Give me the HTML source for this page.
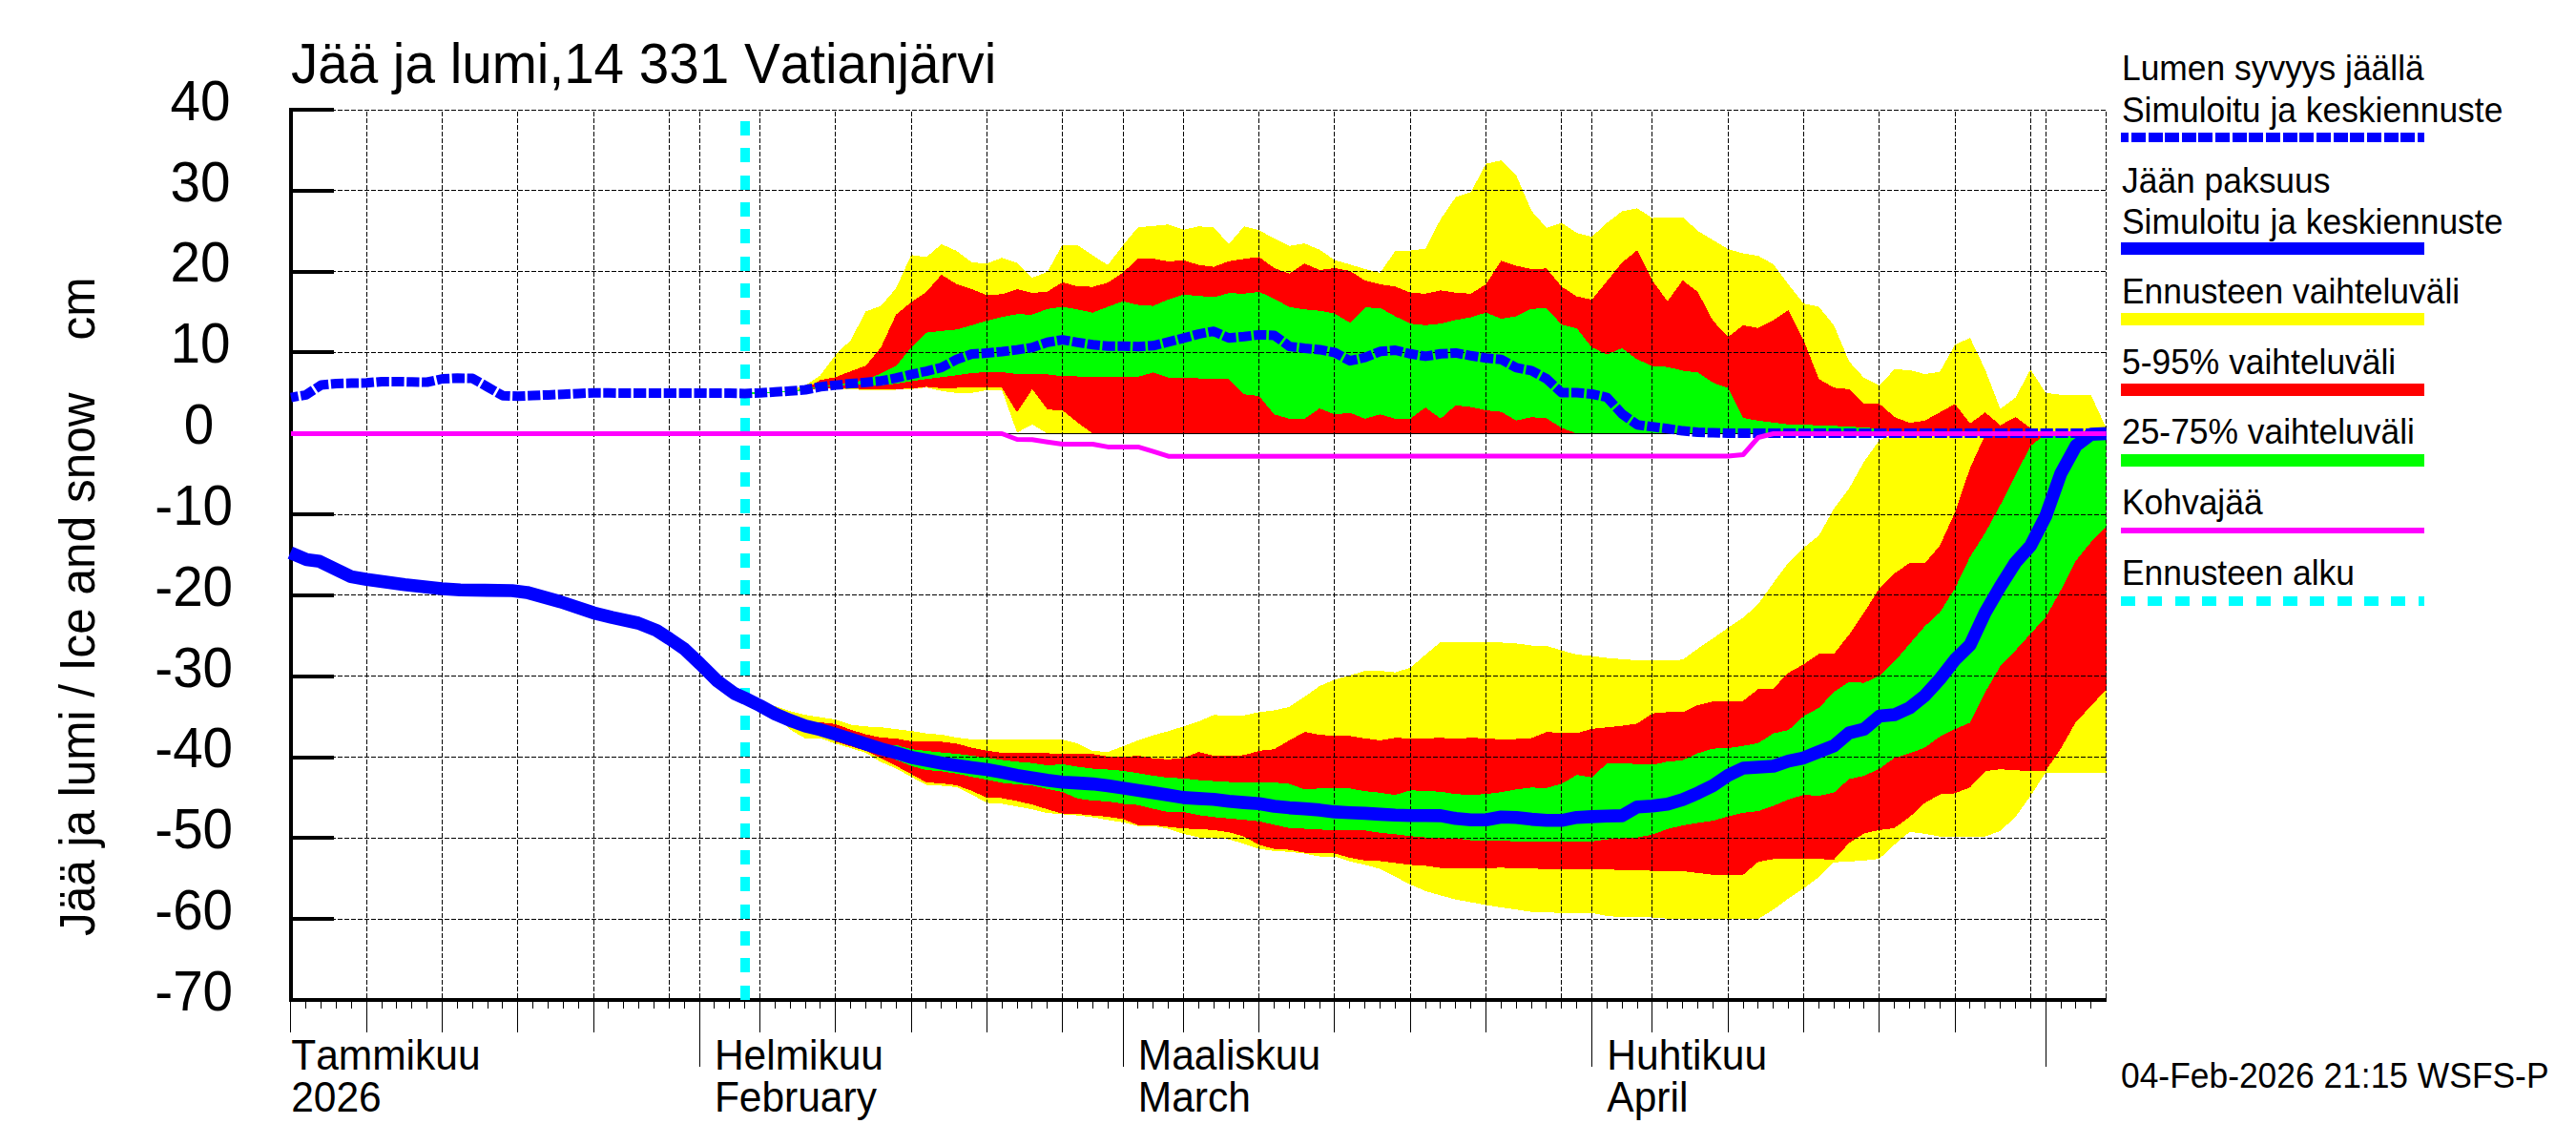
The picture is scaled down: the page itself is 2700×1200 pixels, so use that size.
<!DOCTYPE html>
<html><head><meta charset="utf-8"><title>Jää ja lumi</title>
<style>html,body{margin:0;padding:0;background:#fff}body{width:2700px;height:1200px;overflow:hidden;font-family:"Liberation Sans",sans-serif}</style></head>
<body>
<svg width="2700" height="1200" viewBox="0 0 2700 1200" style="display:block;font-kerning:none" font-family="Liberation Sans, sans-serif" fill="#000">
<rect width="2700" height="1200" fill="#fff"/>
<line x1="2207.5" y1="117.0" x2="2207.5" y2="1046.0" stroke="#000" stroke-width="1" stroke-dasharray="5 2" shape-rendering="crispEdges"/>
<g shape-rendering="crispEdges">
<path d="M780.7,411.8 L796.5,411.2 L812.4,410.2 L828.2,409.2 L844.1,404.0 L859.9,393.3 L875.8,372.0 L891.6,356.5 L907.5,326.4 L923.3,320.6 L939.2,302.1 L955.1,267.2 L970.9,269.5 L986.8,255.9 L1002.6,262.9 L1018.5,274.9 L1034.3,276.3 L1050.2,270.1 L1066.0,275.5 L1081.9,291.0 L1097.8,285.0 L1113.6,256.5 L1129.5,257.1 L1145.3,267.6 L1161.2,277.8 L1177.0,257.0 L1192.9,238.1 L1208.7,236.9 L1224.6,235.2 L1240.4,240.8 L1256.3,237.3 L1272.2,238.3 L1288.0,255.8 L1303.9,237.3 L1319.7,241.2 L1335.6,250.0 L1351.4,257.7 L1367.3,255.2 L1383.1,261.6 L1399.0,272.7 L1414.9,277.1 L1430.7,282.0 L1446.6,285.9 L1462.4,263.0 L1478.3,262.6 L1494.1,260.6 L1510.0,229.6 L1525.8,206.7 L1541.7,201.4 L1557.5,171.7 L1573.4,168.1 L1589.3,184.0 L1605.1,220.8 L1621.0,238.7 L1636.8,233.5 L1652.7,244.1 L1668.5,248.0 L1684.4,233.5 L1700.2,221.4 L1716.1,218.3 L1732.0,228.6 L1747.8,227.6 L1763.7,227.5 L1779.5,241.9 L1795.4,251.6 L1811.2,261.0 L1827.1,265.6 L1842.9,268.1 L1858.8,276.9 L1874.6,298.2 L1890.5,318.2 L1906.4,321.5 L1922.2,340.9 L1938.1,378.8 L1953.9,396.2 L1969.8,404.0 L1985.6,387.1 L2001.5,387.9 L2017.3,392.0 L2033.2,389.8 L2049.1,361.3 L2064.9,354.1 L2080.8,387.5 L2096.6,428.7 L2112.5,416.6 L2128.3,387.1 L2144.2,411.8 L2160.0,413.7 L2175.9,414.1 L2191.7,414.1 L2207.6,448.7 L2207.6,454.5 L2191.7,454.5 L2175.9,454.5 L2160.0,454.5 L2144.2,454.5 L2128.3,454.5 L2112.5,454.5 L2096.6,454.5 L2080.8,454.5 L2064.9,454.5 L2049.1,454.5 L2033.2,454.5 L2017.3,454.5 L2001.5,454.5 L1985.6,454.5 L1969.8,454.5 L1953.9,454.5 L1938.1,454.5 L1922.2,454.5 L1906.4,454.5 L1890.5,454.5 L1874.6,454.5 L1858.8,454.5 L1842.9,454.5 L1827.1,454.5 L1811.2,454.5 L1795.4,454.5 L1779.5,454.5 L1763.7,454.5 L1747.8,454.5 L1732.0,454.5 L1716.1,454.5 L1700.2,454.5 L1684.4,454.5 L1668.5,454.5 L1652.7,454.5 L1636.8,454.5 L1621.0,454.5 L1605.1,454.5 L1589.3,454.5 L1573.4,454.5 L1557.5,454.5 L1541.7,454.5 L1525.8,454.5 L1510.0,454.5 L1494.1,454.5 L1478.3,454.5 L1462.4,454.5 L1446.6,454.5 L1430.7,454.5 L1414.9,454.5 L1399.0,454.5 L1383.1,454.5 L1367.3,454.5 L1351.4,454.5 L1335.6,454.5 L1319.7,454.5 L1303.9,454.5 L1288.0,454.5 L1272.2,454.5 L1256.3,454.5 L1240.4,454.5 L1224.6,454.5 L1208.7,454.5 L1192.9,454.5 L1177.0,454.5 L1161.2,454.5 L1145.3,454.5 L1129.5,454.5 L1113.6,454.5 L1097.8,454.5 L1081.9,444.8 L1066.0,453.5 L1050.2,408.9 L1034.3,408.9 L1018.5,411.8 L1002.6,411.8 L986.8,409.8 L970.9,406.0 L955.1,407.9 L939.2,408.5 L923.3,408.9 L907.5,408.7 L891.6,408.3 L875.8,407.9 L859.9,406.9 L844.1,409.1 L828.2,410.4 L812.4,411.4 L796.5,412.4 L780.7,413.0Z" fill="#ffff00"/>
<path d="M780.7,411.8 L796.5,411.2 L812.4,410.2 L828.2,409.2 L844.1,407.9 L859.9,398.2 L875.8,395.3 L891.6,389.1 L907.5,383.2 L923.3,364.2 L939.2,329.7 L955.1,316.7 L970.9,306.0 L986.8,287.9 L1002.6,297.8 L1018.5,303.1 L1034.3,309.3 L1050.2,308.3 L1066.0,303.1 L1081.9,307.0 L1097.8,305.6 L1113.6,295.9 L1129.5,300.2 L1145.3,300.6 L1161.2,296.3 L1177.0,285.6 L1192.9,271.1 L1208.7,271.1 L1224.6,274.0 L1240.4,272.7 L1256.3,277.7 L1272.2,279.7 L1288.0,273.8 L1303.9,271.3 L1319.7,269.4 L1335.6,281.0 L1351.4,286.8 L1367.3,276.2 L1383.1,283.0 L1399.0,281.0 L1414.9,283.9 L1430.7,294.0 L1446.6,297.9 L1462.4,300.4 L1478.3,306.8 L1494.1,307.8 L1510.0,304.3 L1525.8,306.8 L1541.7,307.8 L1557.5,297.9 L1573.4,273.3 L1589.3,278.5 L1605.1,282.0 L1621.0,281.4 L1636.8,300.4 L1652.7,310.7 L1668.5,314.0 L1684.4,294.6 L1700.2,275.2 L1716.1,262.2 L1732.0,294.3 L1747.8,315.7 L1763.7,293.8 L1779.5,306.0 L1795.4,336.1 L1811.2,353.2 L1827.1,340.9 L1842.9,343.8 L1858.8,335.5 L1874.6,325.0 L1890.5,356.5 L1906.4,397.2 L1922.2,406.3 L1938.1,407.9 L1953.9,423.4 L1969.8,423.0 L1985.6,437.0 L2001.5,443.2 L2017.3,440.9 L2033.2,432.2 L2049.1,423.4 L2064.9,443.8 L2080.8,432.2 L2096.6,445.7 L2112.5,437.0 L2128.3,448.7 L2144.2,454.5 L2160.0,454.5 L2175.9,454.5 L2191.7,454.5 L2207.6,454.5 L2207.6,454.5 L2191.7,454.5 L2175.9,454.5 L2160.0,454.5 L2144.2,454.5 L2128.3,454.5 L2112.5,454.5 L2096.6,454.5 L2080.8,454.5 L2064.9,454.5 L2049.1,454.5 L2033.2,454.5 L2017.3,454.5 L2001.5,454.5 L1985.6,454.5 L1969.8,454.5 L1953.9,454.5 L1938.1,454.5 L1922.2,454.5 L1906.4,454.5 L1890.5,454.5 L1874.6,454.5 L1858.8,454.5 L1842.9,454.5 L1827.1,454.5 L1811.2,454.5 L1795.4,454.5 L1779.5,454.5 L1763.7,454.5 L1747.8,454.5 L1732.0,454.5 L1716.1,454.5 L1700.2,454.5 L1684.4,454.5 L1668.5,454.5 L1652.7,454.5 L1636.8,454.5 L1621.0,454.5 L1605.1,454.5 L1589.3,454.5 L1573.4,454.5 L1557.5,454.5 L1541.7,454.5 L1525.8,454.5 L1510.0,454.5 L1494.1,454.5 L1478.3,454.5 L1462.4,454.5 L1446.6,454.5 L1430.7,454.5 L1414.9,454.5 L1399.0,454.5 L1383.1,454.5 L1367.3,454.5 L1351.4,454.5 L1335.6,454.5 L1319.7,454.5 L1303.9,454.5 L1288.0,454.5 L1272.2,454.5 L1256.3,454.5 L1240.4,454.5 L1224.6,454.5 L1208.7,454.5 L1192.9,454.5 L1177.0,454.5 L1161.2,454.5 L1145.3,454.5 L1129.5,442.8 L1113.6,430.2 L1097.8,429.2 L1081.9,407.9 L1066.0,432.2 L1050.2,406.5 L1034.3,406.0 L1018.5,406.3 L1002.6,406.5 L986.8,406.9 L970.9,405.4 L955.1,407.3 L939.2,407.7 L923.3,407.9 L907.5,407.7 L891.6,407.3 L875.8,406.9 L859.9,406.5 L844.1,409.1 L828.2,410.4 L812.4,411.4 L796.5,412.4 L780.7,413.0Z" fill="#ff0000"/>
<path d="M780.7,411.8 L796.5,411.2 L812.4,410.2 L828.2,409.2 L844.1,407.9 L859.9,404.8 L875.8,403.0 L891.6,401.1 L907.5,398.2 L923.3,391.4 L939.2,383.6 L955.1,364.2 L970.9,348.7 L986.8,346.8 L1002.6,345.4 L1018.5,340.9 L1034.3,336.1 L1050.2,332.2 L1066.0,329.3 L1081.9,329.7 L1097.8,323.9 L1113.6,321.5 L1129.5,324.4 L1145.3,327.7 L1161.2,321.5 L1177.0,315.7 L1192.9,319.6 L1208.7,320.6 L1224.6,313.8 L1240.4,308.8 L1256.3,310.1 L1272.2,311.5 L1288.0,307.2 L1303.9,307.8 L1319.7,305.9 L1335.6,313.0 L1351.4,321.8 L1367.3,324.3 L1383.1,325.7 L1399.0,328.6 L1414.9,338.3 L1430.7,322.4 L1446.6,322.7 L1462.4,331.5 L1478.3,339.2 L1494.1,340.8 L1510.0,339.2 L1525.8,335.4 L1541.7,332.5 L1557.5,327.6 L1573.4,334.0 L1589.3,331.5 L1605.1,323.7 L1621.0,323.1 L1636.8,340.2 L1652.7,344.1 L1668.5,364.1 L1684.4,371.4 L1700.2,365.0 L1716.1,376.7 L1732.0,383.6 L1747.8,384.6 L1763.7,388.5 L1779.5,390.4 L1795.4,401.1 L1811.2,406.5 L1827.1,438.0 L1842.9,440.9 L1858.8,442.8 L1874.6,444.8 L1890.5,445.2 L1906.4,445.7 L1922.2,446.3 L1938.1,447.1 L1953.9,448.1 L1969.8,449.2 L1985.6,453.4 L2001.5,453.4 L2017.3,453.4 L2033.2,453.4 L2049.1,453.4 L2064.9,453.4 L2080.8,453.4 L2096.6,453.4 L2112.5,453.4 L2128.3,453.4 L2144.2,453.4 L2160.0,453.4 L2175.9,453.4 L2191.7,453.4 L2207.6,453.4 L2207.6,454.6 L2191.7,454.6 L2175.9,454.6 L2160.0,454.6 L2144.2,454.6 L2128.3,454.6 L2112.5,454.6 L2096.6,454.6 L2080.8,454.6 L2064.9,454.6 L2049.1,454.6 L2033.2,454.6 L2017.3,454.6 L2001.5,454.6 L1985.6,454.6 L1969.8,454.6 L1953.9,454.6 L1938.1,454.6 L1922.2,454.6 L1906.4,454.6 L1890.5,454.6 L1874.6,454.6 L1858.8,454.6 L1842.9,454.6 L1827.1,454.6 L1811.2,454.6 L1795.4,454.5 L1779.5,454.5 L1763.7,454.5 L1747.8,454.5 L1732.0,454.5 L1716.1,454.5 L1700.2,454.5 L1684.4,454.5 L1668.5,454.5 L1652.7,454.3 L1636.8,448.5 L1621.0,438.4 L1605.1,437.2 L1589.3,440.7 L1573.4,431.6 L1557.5,430.0 L1541.7,426.6 L1525.8,424.8 L1510.0,438.8 L1494.1,427.1 L1478.3,438.8 L1462.4,438.8 L1446.6,434.3 L1430.7,438.8 L1414.9,432.6 L1399.0,434.5 L1383.1,428.1 L1367.3,438.8 L1351.4,438.8 L1335.6,434.3 L1319.7,415.1 L1303.9,413.2 L1288.0,397.4 L1272.2,397.0 L1256.3,396.5 L1240.4,395.7 L1224.6,395.7 L1208.7,390.4 L1192.9,394.9 L1177.0,395.3 L1161.2,395.1 L1145.3,394.7 L1129.5,394.5 L1113.6,394.3 L1097.8,392.4 L1081.9,392.2 L1066.0,392.0 L1050.2,390.0 L1034.3,390.0 L1018.5,391.0 L1002.6,393.3 L986.8,395.3 L970.9,397.2 L955.1,399.5 L939.2,402.1 L923.3,404.0 L907.5,403.0 L891.6,403.0 L875.8,404.2 L859.9,406.0 L844.1,409.1 L828.2,410.4 L812.4,411.4 L796.5,412.4 L780.7,413.0Z" fill="#00ff00"/>
<path d="M780.7,731.7 L796.5,739.5 L812.4,740.1 L828.2,745.3 L844.1,749.2 L859.9,751.7 L875.8,754.1 L891.6,759.5 L907.5,761.4 L923.3,762.2 L939.2,764.1 L955.1,766.1 L970.9,768.6 L986.8,770.0 L1002.6,772.9 L1018.5,775.0 L1034.3,775.0 L1050.2,775.0 L1066.0,775.0 L1081.9,775.0 L1097.8,775.0 L1113.6,775.0 L1129.5,779.3 L1145.3,787.0 L1161.2,788.0 L1177.0,782.2 L1192.9,775.8 L1208.7,770.6 L1224.6,766.3 L1240.4,761.3 L1256.3,756.1 L1272.2,749.3 L1288.0,750.1 L1303.9,749.7 L1319.7,746.4 L1335.6,744.4 L1351.4,740.9 L1367.3,730.3 L1383.1,719.0 L1399.0,712.2 L1414.9,707.9 L1430.7,703.1 L1446.6,703.1 L1462.4,704.6 L1478.3,699.8 L1494.1,686.0 L1510.0,673.0 L1525.8,673.0 L1541.7,673.0 L1557.5,673.0 L1573.4,673.4 L1589.3,674.4 L1605.1,676.5 L1621.0,676.9 L1636.8,681.7 L1652.7,686.0 L1668.5,687.6 L1684.4,689.5 L1700.2,690.9 L1716.1,692.0 L1732.0,692.0 L1747.8,692.0 L1763.7,691.4 L1779.5,679.8 L1795.4,669.1 L1811.2,657.9 L1827.1,647.4 L1842.9,633.1 L1858.8,610.8 L1874.6,589.5 L1890.5,573.9 L1906.4,561.3 L1922.2,533.2 L1938.1,511.8 L1953.9,483.7 L1969.8,461.4 L1985.6,454.8 L2001.5,454.5 L2017.3,454.5 L2033.2,454.5 L2049.1,454.5 L2064.9,454.5 L2080.8,454.5 L2096.6,454.5 L2112.5,454.5 L2128.3,454.5 L2144.2,454.5 L2160.0,454.5 L2175.9,454.5 L2191.7,454.5 L2207.6,454.5 L2207.6,809.7 L2191.7,809.7 L2175.9,809.7 L2160.0,809.7 L2144.2,809.7 L2128.3,834.0 L2112.5,856.3 L2096.6,870.8 L2080.8,876.7 L2064.9,877.3 L2049.1,877.3 L2033.2,876.7 L2017.3,873.8 L2001.5,871.8 L1985.6,885.4 L1969.8,900.0 L1953.9,901.9 L1938.1,902.9 L1922.2,903.8 L1906.4,919.4 L1890.5,931.0 L1874.6,941.7 L1858.8,953.3 L1842.9,963.0 L1827.1,963.0 L1811.2,963.0 L1795.4,963.0 L1779.5,963.0 L1763.7,963.0 L1747.8,962.7 L1732.0,961.5 L1716.1,961.1 L1700.2,961.1 L1684.4,960.1 L1668.5,956.8 L1652.7,956.8 L1636.8,956.8 L1621.0,956.2 L1605.1,955.7 L1589.3,953.3 L1573.4,951.0 L1557.5,948.5 L1541.7,945.6 L1525.8,942.7 L1510.0,938.4 L1494.1,933.9 L1478.3,927.1 L1462.4,918.8 L1446.6,910.6 L1430.7,906.4 L1414.9,902.9 L1399.0,897.6 L1383.1,897.6 L1367.3,894.5 L1351.4,892.8 L1335.6,891.8 L1319.7,889.7 L1303.9,884.4 L1288.0,879.6 L1272.2,878.2 L1256.3,877.6 L1240.4,873.8 L1224.6,868.6 L1208.7,865.7 L1192.9,865.7 L1177.0,861.8 L1161.2,859.4 L1145.3,856.5 L1129.5,854.6 L1113.6,853.4 L1097.8,852.1 L1081.9,848.2 L1066.0,845.3 L1050.2,842.4 L1034.3,841.4 L1018.5,832.7 L1002.6,824.9 L986.8,823.5 L970.9,822.6 L955.1,814.2 L939.2,805.5 L923.3,798.7 L907.5,789.0 L891.6,784.1 L875.8,779.3 L859.9,773.9 L844.1,773.9 L828.2,764.7 L812.4,748.2 L796.5,739.5 L780.7,731.7Z" fill="#ffff00"/>
<path d="M780.7,731.7 L796.5,739.5 L812.4,748.2 L828.2,755.0 L844.1,760.8 L859.9,757.0 L875.8,758.9 L891.6,764.7 L907.5,769.6 L923.3,773.1 L939.2,773.9 L955.1,777.0 L970.9,777.0 L986.8,777.3 L1002.6,779.3 L1018.5,783.6 L1034.3,786.7 L1050.2,789.0 L1066.0,789.4 L1081.9,789.4 L1097.8,789.4 L1113.6,790.3 L1129.5,790.3 L1145.3,790.3 L1161.2,792.9 L1177.0,793.5 L1192.9,791.9 L1208.7,794.8 L1224.6,795.8 L1240.4,794.3 L1256.3,788.1 L1272.2,792.0 L1288.0,792.4 L1303.9,791.4 L1319.7,786.9 L1335.6,785.2 L1351.4,775.9 L1367.3,767.1 L1383.1,770.0 L1399.0,771.4 L1414.9,771.4 L1430.7,773.9 L1446.6,775.9 L1462.4,773.2 L1478.3,773.9 L1494.1,773.9 L1510.0,773.2 L1525.8,774.3 L1541.7,773.2 L1557.5,773.9 L1573.4,774.9 L1589.3,774.5 L1605.1,773.5 L1621.0,767.1 L1636.8,768.1 L1652.7,768.5 L1668.5,763.8 L1684.4,762.3 L1700.2,760.7 L1716.1,758.4 L1732.0,747.7 L1747.8,746.4 L1763.7,746.4 L1779.5,739.0 L1795.4,735.1 L1811.2,735.1 L1827.1,734.5 L1842.9,722.1 L1858.8,721.5 L1874.6,705.0 L1890.5,696.3 L1906.4,685.2 L1922.2,685.2 L1938.1,665.2 L1953.9,641.9 L1969.8,616.6 L1985.6,601.1 L2001.5,590.0 L2017.3,590.4 L2033.2,572.0 L2049.1,537.0 L2064.9,490.5 L2080.8,455.5 L2096.6,454.5 L2112.5,454.5 L2128.3,454.5 L2144.2,454.5 L2160.0,454.5 L2175.9,454.5 L2191.7,454.5 L2207.6,454.5 L2207.6,722.5 L2191.7,740.0 L2175.9,756.5 L2160.0,784.6 L2144.2,807.8 L2128.3,807.8 L2112.5,807.4 L2096.6,806.2 L2080.8,808.2 L2064.9,825.2 L2049.1,831.4 L2033.2,832.6 L2017.3,841.7 L2001.5,856.3 L1985.6,867.9 L1969.8,869.9 L1953.9,873.4 L1938.1,883.5 L1922.2,900.9 L1906.4,900.3 L1890.5,900.3 L1874.6,900.3 L1858.8,900.3 L1842.9,903.3 L1827.1,916.8 L1811.2,916.8 L1795.4,916.8 L1779.5,914.9 L1763.7,913.0 L1747.8,912.6 L1732.0,912.6 L1716.1,912.0 L1700.2,912.0 L1684.4,911.0 L1668.5,911.0 L1652.7,911.0 L1636.8,911.0 L1621.0,911.0 L1605.1,910.1 L1589.3,910.1 L1573.4,909.3 L1557.5,910.1 L1541.7,910.1 L1525.8,910.1 L1510.0,909.7 L1494.1,907.3 L1478.3,906.4 L1462.4,904.4 L1446.6,902.5 L1430.7,901.9 L1414.9,899.0 L1399.0,894.5 L1383.1,894.1 L1367.3,893.6 L1351.4,890.6 L1335.6,889.7 L1319.7,885.4 L1303.9,876.7 L1288.0,872.2 L1272.2,869.9 L1256.3,868.9 L1240.4,868.3 L1224.6,866.6 L1208.7,864.7 L1192.9,864.7 L1177.0,858.5 L1161.2,856.0 L1145.3,854.6 L1129.5,853.0 L1113.6,852.7 L1097.8,848.2 L1081.9,843.3 L1066.0,839.5 L1050.2,836.5 L1034.3,836.0 L1018.5,828.8 L1002.6,823.0 L986.8,821.0 L970.9,820.0 L955.1,811.3 L939.2,802.6 L923.3,794.8 L907.5,787.0 L891.6,782.2 L875.8,777.3 L859.9,764.7 L844.1,760.8 L828.2,755.0 L812.4,748.2 L796.5,739.5 L780.7,731.7Z" fill="#ff0000"/>
<path d="M780.7,731.7 L796.5,739.5 L812.4,748.2 L828.2,755.0 L844.1,760.8 L859.9,764.7 L875.8,769.6 L891.6,774.4 L907.5,779.7 L923.3,784.7 L939.2,780.8 L955.1,785.1 L970.9,787.0 L986.8,788.6 L1002.6,790.0 L1018.5,791.9 L1034.3,794.2 L1050.2,796.4 L1066.0,798.3 L1081.9,799.7 L1097.8,802.0 L1113.6,801.0 L1129.5,803.5 L1145.3,805.5 L1161.2,806.5 L1177.0,807.8 L1192.9,810.3 L1208.7,812.9 L1224.6,815.2 L1240.4,815.7 L1256.3,817.6 L1272.2,818.6 L1288.0,819.5 L1303.9,820.1 L1319.7,820.1 L1335.6,820.1 L1351.4,821.5 L1367.3,827.3 L1383.1,826.3 L1399.0,825.9 L1414.9,826.3 L1430.7,829.2 L1446.6,830.8 L1462.4,833.1 L1478.3,828.3 L1494.1,828.9 L1510.0,829.8 L1525.8,832.2 L1541.7,833.1 L1557.5,832.2 L1573.4,830.2 L1589.3,827.3 L1605.1,825.4 L1621.0,825.8 L1636.8,821.5 L1652.7,812.2 L1668.5,814.7 L1684.4,800.1 L1700.2,800.1 L1716.1,800.7 L1732.0,801.5 L1747.8,798.2 L1763.7,796.8 L1779.5,789.5 L1795.4,784.6 L1811.2,784.0 L1827.1,781.7 L1842.9,778.8 L1858.8,768.5 L1874.6,765.2 L1890.5,750.6 L1906.4,741.9 L1922.2,725.4 L1938.1,714.7 L1953.9,715.7 L1969.8,708.3 L1985.6,693.4 L2001.5,674.9 L2017.3,656.5 L2033.2,641.9 L2049.1,616.6 L2064.9,583.6 L2080.8,558.4 L2096.6,529.3 L2112.5,498.2 L2128.3,467.2 L2144.2,455.1 L2160.0,454.5 L2175.9,454.5 L2191.7,454.5 L2207.6,454.5 L2207.6,551.6 L2191.7,568.1 L2175.9,587.5 L2160.0,618.6 L2144.2,646.8 L2128.3,664.3 L2112.5,681.7 L2096.6,698.2 L2080.8,725.4 L2064.9,757.4 L2049.1,764.2 L2033.2,772.0 L2017.3,783.6 L2001.5,789.5 L1985.6,794.3 L1969.8,805.8 L1953.9,813.0 L1938.1,816.5 L1922.2,830.7 L1906.4,834.0 L1890.5,833.0 L1874.6,837.8 L1858.8,844.6 L1842.9,850.1 L1827.1,851.8 L1811.2,855.7 L1795.4,860.2 L1779.5,862.5 L1763.7,865.0 L1747.8,868.9 L1732.0,874.7 L1716.1,877.6 L1700.2,878.6 L1684.4,879.6 L1668.5,881.9 L1652.7,881.9 L1636.8,881.9 L1621.0,881.9 L1605.1,881.9 L1589.3,881.9 L1573.4,880.9 L1557.5,880.9 L1541.7,880.6 L1525.8,878.6 L1510.0,878.6 L1494.1,877.6 L1478.3,876.3 L1462.4,874.3 L1446.6,872.8 L1430.7,870.3 L1414.9,869.5 L1399.0,870.3 L1383.1,869.3 L1367.3,868.5 L1351.4,867.9 L1335.6,864.4 L1319.7,860.8 L1303.9,859.2 L1288.0,857.8 L1272.2,856.3 L1256.3,854.3 L1240.4,850.9 L1224.6,851.1 L1208.7,847.6 L1192.9,843.7 L1177.0,842.4 L1161.2,839.8 L1145.3,839.1 L1129.5,836.9 L1113.6,830.1 L1097.8,826.8 L1081.9,823.3 L1066.0,822.0 L1050.2,820.4 L1034.3,817.1 L1018.5,814.2 L1002.6,810.7 L986.8,808.4 L970.9,807.0 L955.1,802.6 L939.2,796.4 L923.3,784.7 L907.5,779.7 L891.6,774.4 L875.8,769.6 L859.9,764.7 L844.1,760.8 L828.2,755.0 L812.4,748.2 L796.5,739.5 L780.7,731.7Z" fill="#00ff00"/>
</g>
<g stroke="#000" stroke-width="1" stroke-dasharray="5 2" shape-rendering="crispEdges">
<line x1="350.0" y1="963.5" x2="2207.6" y2="963.5" stroke-dashoffset="3"/>
<line x1="350.0" y1="878.5" x2="2207.6" y2="878.5" stroke-dashoffset="3"/>
<line x1="350.0" y1="793.5" x2="2207.6" y2="793.5" stroke-dashoffset="3"/>
<line x1="350.0" y1="708.5" x2="2207.6" y2="708.5" stroke-dashoffset="3"/>
<line x1="350.0" y1="623.5" x2="2207.6" y2="623.5" stroke-dashoffset="3"/>
<line x1="350.0" y1="539.5" x2="2207.6" y2="539.5" stroke-dashoffset="3"/>
<line x1="350.0" y1="454.5" x2="2207.6" y2="454.5" stroke-dashoffset="3"/>
<line x1="350.0" y1="369.5" x2="2207.6" y2="369.5" stroke-dashoffset="3"/>
<line x1="350.0" y1="284.5" x2="2207.6" y2="284.5" stroke-dashoffset="3"/>
<line x1="350.0" y1="199.5" x2="2207.6" y2="199.5" stroke-dashoffset="3"/>
<line x1="350.0" y1="115.5" x2="2207.6" y2="115.5" stroke-dashoffset="3"/>
<line x1="384.5" y1="117.0" x2="384.5" y2="1046.0"/>
<line x1="463.5" y1="117.0" x2="463.5" y2="1046.0"/>
<line x1="542.5" y1="117.0" x2="542.5" y2="1046.0"/>
<line x1="622.5" y1="117.0" x2="622.5" y2="1046.0"/>
<line x1="796.5" y1="117.0" x2="796.5" y2="1046.0"/>
<line x1="875.5" y1="117.0" x2="875.5" y2="1046.0"/>
<line x1="955.5" y1="117.0" x2="955.5" y2="1046.0"/>
<line x1="1034.5" y1="117.0" x2="1034.5" y2="1046.0"/>
<line x1="1113.5" y1="117.0" x2="1113.5" y2="1046.0"/>
<line x1="1240.5" y1="117.0" x2="1240.5" y2="1046.0"/>
<line x1="1319.5" y1="117.0" x2="1319.5" y2="1046.0"/>
<line x1="1398.5" y1="117.0" x2="1398.5" y2="1046.0"/>
<line x1="1478.5" y1="117.0" x2="1478.5" y2="1046.0"/>
<line x1="1557.5" y1="117.0" x2="1557.5" y2="1046.0"/>
<line x1="1731.5" y1="117.0" x2="1731.5" y2="1046.0"/>
<line x1="1811.5" y1="117.0" x2="1811.5" y2="1046.0"/>
<line x1="1890.5" y1="117.0" x2="1890.5" y2="1046.0"/>
<line x1="1969.5" y1="117.0" x2="1969.5" y2="1046.0"/>
<line x1="2049.5" y1="117.0" x2="2049.5" y2="1046.0"/>
<line x1="2207.5" y1="117.0" x2="2207.5" y2="1046.0"/>
<line x1="733.5" y1="117.0" x2="733.5" y2="1046.0"/>
<line x1="1177.5" y1="117.0" x2="1177.5" y2="1046.0"/>
<line x1="1668.5" y1="117.0" x2="1668.5" y2="1046.0"/>
<line x1="2144.5" y1="117.0" x2="2144.5" y2="1046.0"/>
<line x1="701.5" y1="117.0" x2="701.5" y2="1046.0"/>
<line x1="1636.5" y1="117.0" x2="1636.5" y2="1046.0"/>
<line x1="2128.5" y1="117.0" x2="2128.5" y2="1046.0"/>
</g>
<g stroke="#000" shape-rendering="crispEdges">
<line x1="305.0" y1="963" x2="350.0" y2="963" stroke-width="4"/>
<line x1="305.0" y1="878" x2="350.0" y2="878" stroke-width="4"/>
<line x1="305.0" y1="794" x2="350.0" y2="794" stroke-width="4"/>
<line x1="305.0" y1="709" x2="350.0" y2="709" stroke-width="4"/>
<line x1="305.0" y1="624" x2="350.0" y2="624" stroke-width="4"/>
<line x1="305.0" y1="539" x2="350.0" y2="539" stroke-width="4"/>
<line x1="305.0" y1="454" x2="350.0" y2="454" stroke-width="4"/>
<line x1="305.0" y1="369" x2="350.0" y2="369" stroke-width="4"/>
<line x1="305.0" y1="285" x2="350.0" y2="285" stroke-width="4"/>
<line x1="305.0" y1="200" x2="350.0" y2="200" stroke-width="4"/>
<line x1="305.0" y1="115" x2="350.0" y2="115" stroke-width="4"/>
</g>
<g stroke="#000" shape-rendering="crispEdges">
<line x1="305.0" y1="113.0" x2="305.0" y2="1050.0" stroke-width="4"/>
<line x1="303.0" y1="1048.0" x2="2207.6" y2="1048.0" stroke-width="4"/>
<line x1="304.5" y1="1050.0" x2="304.5" y2="1081.6" stroke-width="1"/>
<line x1="320.5" y1="1050.0" x2="320.5" y2="1056.6" stroke-width="1"/>
<line x1="336.5" y1="1050.0" x2="336.5" y2="1056.6" stroke-width="1"/>
<line x1="352.5" y1="1050.0" x2="352.5" y2="1056.6" stroke-width="1"/>
<line x1="368.5" y1="1050.0" x2="368.5" y2="1056.6" stroke-width="1"/>
<line x1="384.5" y1="1050.0" x2="384.5" y2="1081.6" stroke-width="1"/>
<line x1="400.5" y1="1050.0" x2="400.5" y2="1056.6" stroke-width="1"/>
<line x1="415.5" y1="1050.0" x2="415.5" y2="1056.6" stroke-width="1"/>
<line x1="431.5" y1="1050.0" x2="431.5" y2="1056.6" stroke-width="1"/>
<line x1="447.5" y1="1050.0" x2="447.5" y2="1056.6" stroke-width="1"/>
<line x1="463.5" y1="1050.0" x2="463.5" y2="1081.6" stroke-width="1"/>
<line x1="479.5" y1="1050.0" x2="479.5" y2="1056.6" stroke-width="1"/>
<line x1="495.5" y1="1050.0" x2="495.5" y2="1056.6" stroke-width="1"/>
<line x1="511.5" y1="1050.0" x2="511.5" y2="1056.6" stroke-width="1"/>
<line x1="526.5" y1="1050.0" x2="526.5" y2="1056.6" stroke-width="1"/>
<line x1="542.5" y1="1050.0" x2="542.5" y2="1081.6" stroke-width="1"/>
<line x1="558.5" y1="1050.0" x2="558.5" y2="1056.6" stroke-width="1"/>
<line x1="574.5" y1="1050.0" x2="574.5" y2="1056.6" stroke-width="1"/>
<line x1="590.5" y1="1050.0" x2="590.5" y2="1056.6" stroke-width="1"/>
<line x1="606.5" y1="1050.0" x2="606.5" y2="1056.6" stroke-width="1"/>
<line x1="622.5" y1="1050.0" x2="622.5" y2="1081.6" stroke-width="1"/>
<line x1="637.5" y1="1050.0" x2="637.5" y2="1056.6" stroke-width="1"/>
<line x1="653.5" y1="1050.0" x2="653.5" y2="1056.6" stroke-width="1"/>
<line x1="669.5" y1="1050.0" x2="669.5" y2="1056.6" stroke-width="1"/>
<line x1="685.5" y1="1050.0" x2="685.5" y2="1056.6" stroke-width="1"/>
<line x1="701.5" y1="1050.0" x2="701.5" y2="1056.6" stroke-width="1"/>
<line x1="717.5" y1="1050.0" x2="717.5" y2="1056.6" stroke-width="1"/>
<line x1="733.5" y1="1050.0" x2="733.5" y2="1117.6" stroke-width="1"/>
<line x1="748.5" y1="1050.0" x2="748.5" y2="1056.6" stroke-width="1"/>
<line x1="764.5" y1="1050.0" x2="764.5" y2="1056.6" stroke-width="1"/>
<line x1="780.5" y1="1050.0" x2="780.5" y2="1056.6" stroke-width="1"/>
<line x1="796.5" y1="1050.0" x2="796.5" y2="1081.6" stroke-width="1"/>
<line x1="812.5" y1="1050.0" x2="812.5" y2="1056.6" stroke-width="1"/>
<line x1="828.5" y1="1050.0" x2="828.5" y2="1056.6" stroke-width="1"/>
<line x1="844.5" y1="1050.0" x2="844.5" y2="1056.6" stroke-width="1"/>
<line x1="859.5" y1="1050.0" x2="859.5" y2="1056.6" stroke-width="1"/>
<line x1="875.5" y1="1050.0" x2="875.5" y2="1081.6" stroke-width="1"/>
<line x1="891.5" y1="1050.0" x2="891.5" y2="1056.6" stroke-width="1"/>
<line x1="907.5" y1="1050.0" x2="907.5" y2="1056.6" stroke-width="1"/>
<line x1="923.5" y1="1050.0" x2="923.5" y2="1056.6" stroke-width="1"/>
<line x1="939.5" y1="1050.0" x2="939.5" y2="1056.6" stroke-width="1"/>
<line x1="955.5" y1="1050.0" x2="955.5" y2="1081.6" stroke-width="1"/>
<line x1="970.5" y1="1050.0" x2="970.5" y2="1056.6" stroke-width="1"/>
<line x1="986.5" y1="1050.0" x2="986.5" y2="1056.6" stroke-width="1"/>
<line x1="1002.5" y1="1050.0" x2="1002.5" y2="1056.6" stroke-width="1"/>
<line x1="1018.5" y1="1050.0" x2="1018.5" y2="1056.6" stroke-width="1"/>
<line x1="1034.5" y1="1050.0" x2="1034.5" y2="1081.6" stroke-width="1"/>
<line x1="1050.5" y1="1050.0" x2="1050.5" y2="1056.6" stroke-width="1"/>
<line x1="1066.5" y1="1050.0" x2="1066.5" y2="1056.6" stroke-width="1"/>
<line x1="1081.5" y1="1050.0" x2="1081.5" y2="1056.6" stroke-width="1"/>
<line x1="1097.5" y1="1050.0" x2="1097.5" y2="1056.6" stroke-width="1"/>
<line x1="1113.5" y1="1050.0" x2="1113.5" y2="1081.6" stroke-width="1"/>
<line x1="1129.5" y1="1050.0" x2="1129.5" y2="1056.6" stroke-width="1"/>
<line x1="1145.5" y1="1050.0" x2="1145.5" y2="1056.6" stroke-width="1"/>
<line x1="1161.5" y1="1050.0" x2="1161.5" y2="1056.6" stroke-width="1"/>
<line x1="1177.5" y1="1050.0" x2="1177.5" y2="1117.6" stroke-width="1"/>
<line x1="1192.5" y1="1050.0" x2="1192.5" y2="1056.6" stroke-width="1"/>
<line x1="1208.5" y1="1050.0" x2="1208.5" y2="1056.6" stroke-width="1"/>
<line x1="1224.5" y1="1050.0" x2="1224.5" y2="1056.6" stroke-width="1"/>
<line x1="1240.5" y1="1050.0" x2="1240.5" y2="1081.6" stroke-width="1"/>
<line x1="1256.5" y1="1050.0" x2="1256.5" y2="1056.6" stroke-width="1"/>
<line x1="1272.5" y1="1050.0" x2="1272.5" y2="1056.6" stroke-width="1"/>
<line x1="1288.5" y1="1050.0" x2="1288.5" y2="1056.6" stroke-width="1"/>
<line x1="1303.5" y1="1050.0" x2="1303.5" y2="1056.6" stroke-width="1"/>
<line x1="1319.5" y1="1050.0" x2="1319.5" y2="1081.6" stroke-width="1"/>
<line x1="1335.5" y1="1050.0" x2="1335.5" y2="1056.6" stroke-width="1"/>
<line x1="1351.5" y1="1050.0" x2="1351.5" y2="1056.6" stroke-width="1"/>
<line x1="1367.5" y1="1050.0" x2="1367.5" y2="1056.6" stroke-width="1"/>
<line x1="1383.5" y1="1050.0" x2="1383.5" y2="1056.6" stroke-width="1"/>
<line x1="1398.5" y1="1050.0" x2="1398.5" y2="1081.6" stroke-width="1"/>
<line x1="1414.5" y1="1050.0" x2="1414.5" y2="1056.6" stroke-width="1"/>
<line x1="1430.5" y1="1050.0" x2="1430.5" y2="1056.6" stroke-width="1"/>
<line x1="1446.5" y1="1050.0" x2="1446.5" y2="1056.6" stroke-width="1"/>
<line x1="1462.5" y1="1050.0" x2="1462.5" y2="1056.6" stroke-width="1"/>
<line x1="1478.5" y1="1050.0" x2="1478.5" y2="1081.6" stroke-width="1"/>
<line x1="1494.5" y1="1050.0" x2="1494.5" y2="1056.6" stroke-width="1"/>
<line x1="1509.5" y1="1050.0" x2="1509.5" y2="1056.6" stroke-width="1"/>
<line x1="1525.5" y1="1050.0" x2="1525.5" y2="1056.6" stroke-width="1"/>
<line x1="1541.5" y1="1050.0" x2="1541.5" y2="1056.6" stroke-width="1"/>
<line x1="1557.5" y1="1050.0" x2="1557.5" y2="1081.6" stroke-width="1"/>
<line x1="1573.5" y1="1050.0" x2="1573.5" y2="1056.6" stroke-width="1"/>
<line x1="1589.5" y1="1050.0" x2="1589.5" y2="1056.6" stroke-width="1"/>
<line x1="1605.5" y1="1050.0" x2="1605.5" y2="1056.6" stroke-width="1"/>
<line x1="1620.5" y1="1050.0" x2="1620.5" y2="1056.6" stroke-width="1"/>
<line x1="1636.5" y1="1050.0" x2="1636.5" y2="1056.6" stroke-width="1"/>
<line x1="1652.5" y1="1050.0" x2="1652.5" y2="1056.6" stroke-width="1"/>
<line x1="1668.5" y1="1050.0" x2="1668.5" y2="1117.6" stroke-width="1"/>
<line x1="1684.5" y1="1050.0" x2="1684.5" y2="1056.6" stroke-width="1"/>
<line x1="1700.5" y1="1050.0" x2="1700.5" y2="1056.6" stroke-width="1"/>
<line x1="1716.5" y1="1050.0" x2="1716.5" y2="1056.6" stroke-width="1"/>
<line x1="1731.5" y1="1050.0" x2="1731.5" y2="1081.6" stroke-width="1"/>
<line x1="1747.5" y1="1050.0" x2="1747.5" y2="1056.6" stroke-width="1"/>
<line x1="1763.5" y1="1050.0" x2="1763.5" y2="1056.6" stroke-width="1"/>
<line x1="1779.5" y1="1050.0" x2="1779.5" y2="1056.6" stroke-width="1"/>
<line x1="1795.5" y1="1050.0" x2="1795.5" y2="1056.6" stroke-width="1"/>
<line x1="1811.5" y1="1050.0" x2="1811.5" y2="1081.6" stroke-width="1"/>
<line x1="1827.5" y1="1050.0" x2="1827.5" y2="1056.6" stroke-width="1"/>
<line x1="1842.5" y1="1050.0" x2="1842.5" y2="1056.6" stroke-width="1"/>
<line x1="1858.5" y1="1050.0" x2="1858.5" y2="1056.6" stroke-width="1"/>
<line x1="1874.5" y1="1050.0" x2="1874.5" y2="1056.6" stroke-width="1"/>
<line x1="1890.5" y1="1050.0" x2="1890.5" y2="1081.6" stroke-width="1"/>
<line x1="1906.5" y1="1050.0" x2="1906.5" y2="1056.6" stroke-width="1"/>
<line x1="1922.5" y1="1050.0" x2="1922.5" y2="1056.6" stroke-width="1"/>
<line x1="1938.5" y1="1050.0" x2="1938.5" y2="1056.6" stroke-width="1"/>
<line x1="1953.5" y1="1050.0" x2="1953.5" y2="1056.6" stroke-width="1"/>
<line x1="1969.5" y1="1050.0" x2="1969.5" y2="1081.6" stroke-width="1"/>
<line x1="1985.5" y1="1050.0" x2="1985.5" y2="1056.6" stroke-width="1"/>
<line x1="2001.5" y1="1050.0" x2="2001.5" y2="1056.6" stroke-width="1"/>
<line x1="2017.5" y1="1050.0" x2="2017.5" y2="1056.6" stroke-width="1"/>
<line x1="2033.5" y1="1050.0" x2="2033.5" y2="1056.6" stroke-width="1"/>
<line x1="2049.5" y1="1050.0" x2="2049.5" y2="1081.6" stroke-width="1"/>
<line x1="2064.5" y1="1050.0" x2="2064.5" y2="1056.6" stroke-width="1"/>
<line x1="2080.5" y1="1050.0" x2="2080.5" y2="1056.6" stroke-width="1"/>
<line x1="2096.5" y1="1050.0" x2="2096.5" y2="1056.6" stroke-width="1"/>
<line x1="2112.5" y1="1050.0" x2="2112.5" y2="1056.6" stroke-width="1"/>
<line x1="2128.5" y1="1050.0" x2="2128.5" y2="1056.6" stroke-width="1"/>
<line x1="2144.5" y1="1050.0" x2="2144.5" y2="1117.6" stroke-width="1"/>
<line x1="2160.5" y1="1050.0" x2="2160.5" y2="1056.6" stroke-width="1"/>
<line x1="2175.5" y1="1050.0" x2="2175.5" y2="1056.6" stroke-width="1"/>
<line x1="2191.5" y1="1050.0" x2="2191.5" y2="1056.6" stroke-width="1"/>
</g>
<line x1="305.0" y1="454.5" x2="2207.6" y2="454.5" stroke="#000" stroke-width="1.4" shape-rendering="crispEdges"/>
<line x1="781" y1="127" x2="781" y2="1048.0" stroke="#00ffff" stroke-width="10" stroke-dasharray="15 13.3" shape-rendering="crispEdges"/>
<path d="M305.0,416.6 L312.6,415.2 M315.2,414.8 L320.9,413.8 L328.5,408.8 M330.7,407.4 L336.7,403.5 L344.3,402.7 M346.9,402.4 L352.6,401.9 L360.2,401.7 M362.8,401.7 L368.4,401.6 L376.0,401.5 M378.6,401.4 L384.3,401.3 L391.9,400.6 M394.5,400.4 L400.1,399.9 L407.8,399.9 M410.4,400.0 L416.0,400.0 L423.6,400.1 M426.2,400.2 L431.8,400.3 L439.5,400.4 M442.1,400.4 L447.7,400.5 L455.3,398.8 M457.9,398.3 L463.6,397.0 L471.2,396.7 M473.8,396.6 L479.4,396.3 L487.0,396.4 M489.6,396.5 L495.3,396.6 L502.9,400.9 M505.2,402.2 L511.1,405.6 L518.8,410.0 M521.0,411.3 L527.0,414.7 L534.6,415.0 M537.2,415.1 L542.8,415.3 L550.5,415.0 M553.1,414.8 L558.7,414.6 L566.3,414.2 M568.9,414.1 L574.5,413.9 L582.2,413.5 M584.8,413.4 L590.4,413.2 L598.0,412.8 M600.6,412.7 L606.2,412.4 L613.9,412.1 M616.5,412.0 L622.1,411.8 L629.7,411.8 M632.3,411.8 L638.0,411.8 L645.6,411.9 M648.2,411.9 L653.8,411.9 L661.4,411.9 M664.0,411.9 L669.7,411.9 L677.3,411.9 M679.9,411.9 L685.5,411.9 L693.1,411.9 M695.7,412.0 L701.4,412.0 L709.0,412.0 M711.6,412.0 L717.2,412.0 L724.9,412.0 M727.5,412.0 L733.1,412.0 L740.7,412.1 M743.3,412.1 L748.9,412.1 L756.6,412.1 M759.2,412.1 L764.8,412.1 L772.4,412.2 M775.0,412.3 L780.7,412.4 L788.3,412.1 M790.9,412.0 L796.5,411.8 L804.1,411.3 M806.7,411.2 L812.4,410.8 L820.0,410.3 M822.6,410.2 L828.2,409.8 L835.8,409.2 M838.4,409.0 L844.1,408.5 L851.7,407.0 M854.3,406.5 L859.9,405.4 L867.6,404.5 M870.1,404.2 L875.8,403.6 L883.4,402.9 M886.0,402.6 L891.6,402.1 L899.3,401.4 M901.9,401.2 L907.5,400.7 L915.1,400.0 M917.7,399.7 L923.3,399.2 L931.0,397.8 M933.5,397.3 L939.2,396.2 L946.8,394.4 M949.4,393.8 L955.1,392.4 L962.7,390.8 M965.2,390.2 L970.9,389.1 L978.5,387.2 M981.1,386.6 L986.8,385.2 L994.4,381.2 M996.7,379.9 L1002.6,376.8 L1010.3,374.0 M1012.7,373.1 L1018.5,371.0 L1026.1,370.6 M1028.7,370.4 L1034.3,370.0 L1042.0,369.3 M1044.5,369.0 L1050.2,368.5 L1057.8,367.6 M1060.4,367.2 L1066.0,366.6 L1073.7,365.4 M1076.2,365.1 L1081.9,364.2 L1089.5,361.6 M1092.0,360.8 L1097.8,358.8 L1105.4,357.5 M1107.9,357.0 L1113.6,356.1 L1121.2,357.4 M1123.8,357.8 L1129.5,358.8 L1137.1,360.0 M1139.7,360.4 L1145.3,361.3 L1152.9,362.0 M1155.5,362.2 L1161.2,362.7 L1168.8,362.7 M1171.4,362.7 L1177.0,362.7 L1184.7,363.0 M1187.3,363.0 L1192.9,363.3 L1200.5,362.8 M1203.1,362.6 L1208.7,362.3 L1216.4,360.4 M1218.9,359.8 L1224.6,358.4 L1232.2,356.4 M1234.7,355.8 L1240.4,354.3 L1248.1,352.3 M1250.6,351.6 L1256.3,350.1 L1263.9,348.7 M1266.5,348.2 L1272.2,347.2 L1279.8,350.6 M1282.2,351.7 L1288.0,354.3 L1295.6,353.6 M1298.2,353.3 L1303.9,352.8 L1311.5,351.9 M1314.1,351.5 L1319.7,350.9 L1327.3,351.1 M1329.9,351.2 L1335.6,351.4 L1343.3,357.1 M1345.4,358.6 L1351.4,363.1 L1359.1,364.0 M1361.6,364.3 L1367.3,365.0 L1374.9,365.7 M1377.5,365.9 L1383.1,366.4 L1390.8,367.9 M1393.3,368.4 L1399.0,369.5 L1406.7,373.7 M1408.9,375.0 L1414.9,378.2 L1422.5,376.5 M1425.0,376.0 L1430.7,374.7 L1438.4,371.6 M1440.8,370.7 L1446.6,368.3 L1454.2,367.7 M1456.8,367.4 L1462.4,367.0 L1470.1,368.8 M1472.6,369.5 L1478.3,370.8 L1485.9,372.1 M1488.5,372.5 L1494.1,373.4 L1501.8,372.2 M1504.3,371.7 L1510.0,370.8 L1517.6,370.4 M1520.2,370.2 L1525.8,369.9 L1533.5,371.3 M1536.0,371.7 L1541.7,372.8 L1549.3,374.0 M1551.9,374.4 L1557.5,375.3 L1565.2,376.0 M1567.8,376.2 L1573.4,376.7 L1581.1,380.9 M1583.3,382.1 L1589.3,385.4 L1596.9,386.8 M1599.4,387.3 L1605.1,388.3 L1612.8,392.5 M1615.1,393.8 L1621.0,397.0 L1628.7,404.1 M1630.6,405.9 L1636.8,411.6 L1644.4,411.6 M1647.0,411.6 L1652.7,411.6 L1660.3,412.3 M1662.9,412.5 L1668.5,413.0 L1676.2,414.6 M1678.7,415.2 L1684.4,416.5 L1692.1,425.0 M1693.9,426.9 L1700.2,433.9 L1707.9,439.4 M1710.0,440.9 L1716.1,445.2 L1723.7,446.2 M1726.3,446.5 L1732.0,447.3 L1739.6,448.2 M1742.2,448.5 L1747.8,449.2 L1755.4,450.4 M1758.0,450.7 L1763.7,451.6 L1771.3,452.3 M1773.9,452.6 L1779.5,453.1 L1787.1,453.3 M1789.7,453.4 L1795.4,453.5 L1803.0,453.7 M1805.6,453.8 L1811.2,454.0 L1818.9,454.0 M1821.5,454.0 L1827.1,454.0 L1834.7,454.0 M1837.3,454.0 L1842.9,454.0 L1850.6,454.0 M1853.2,454.0 L1858.8,454.0 L1866.4,454.0 M1869.0,454.0 L1874.6,454.0 L1882.3,454.0 M1884.9,454.0 L1890.5,454.0 L1898.1,454.0 M1900.7,454.0 L1906.4,454.0 L1914.0,454.0 M1916.6,454.0 L1922.2,454.0 L1929.8,454.0 M1932.4,454.0 L1938.1,454.0 L1945.7,454.0 M1948.3,454.0 L1953.9,454.0 L1961.5,454.0 M1964.1,454.0 L1969.8,454.0 L1977.4,454.0 M1980.0,454.0 L1985.6,454.0 L1993.3,454.0 M1995.9,454.0 L2001.5,454.0 L2009.1,454.0 M2011.7,454.0 L2017.3,454.0 L2025.0,454.0 M2027.6,454.0 L2033.2,454.0 L2040.8,454.0 M2043.4,454.0 L2049.1,454.0 L2056.7,454.0 M2059.3,454.0 L2064.9,454.0 L2072.5,454.0 M2075.1,454.0 L2080.8,454.0 L2088.4,454.0 M2091.0,454.0 L2096.6,454.0 L2104.2,454.0 M2106.8,454.0 L2112.5,454.0 L2120.1,454.0 M2122.7,454.0 L2128.3,454.0 L2136.0,454.0 M2138.6,454.0 L2144.2,454.0 L2151.8,454.0 M2154.4,454.0 L2160.0,454.0 L2167.7,454.0 M2170.3,454.0 L2175.9,454.0 L2183.5,454.0 M2186.1,454.0 L2191.7,454.0 L2199.4,454.0 M2202.0,454.0 L2207.6,454.0" fill="none" stroke="#0000ff" stroke-width="10" stroke-linejoin="round"/>
<path d="M304.3,579.2 L321.4,586.6 L334.9,588.3 L367.9,604.4 L384.4,607.3 L424.2,612.8 L463.0,617.0 L482.5,618.2 L536.8,619.0 L552.3,620.9 L587.3,630.6 L622.2,642.3 L641.6,647.1 L668.8,653.0 L688.2,660.7 L701.8,669.5 L717.3,680.1 L733.8,695.7 L752.3,714.1 L769.7,726.7 L780.7,731.7 L796.5,739.5 L812.4,748.2 L828.2,755.0 L844.1,760.8 L859.9,764.7 L875.8,769.6 L891.6,774.4 L907.5,779.7 L923.3,784.7 L939.2,789.0 L955.1,793.8 L970.9,796.8 L986.8,799.7 L1002.6,802.2 L1018.5,804.5 L1034.3,806.5 L1050.2,809.4 L1066.0,812.7 L1081.9,815.2 L1097.8,817.7 L1113.6,819.7 L1129.5,820.6 L1145.3,821.6 L1161.2,823.5 L1177.0,825.9 L1192.9,828.4 L1208.7,830.7 L1224.6,833.2 L1240.4,835.9 L1256.3,836.9 L1272.2,837.8 L1288.0,839.8 L1303.9,841.1 L1319.7,842.3 L1335.6,845.0 L1351.4,846.6 L1367.3,847.6 L1383.1,848.9 L1399.0,850.9 L1414.9,851.8 L1430.7,852.4 L1446.6,853.4 L1462.4,854.3 L1478.3,854.7 L1494.1,854.7 L1510.0,854.9 L1525.8,857.8 L1541.7,859.2 L1557.5,859.2 L1573.4,856.3 L1589.3,856.7 L1605.1,858.6 L1621.0,859.8 L1636.8,859.8 L1652.7,856.7 L1668.5,855.9 L1684.4,855.3 L1700.2,854.9 L1716.1,845.7 L1732.0,844.8 L1747.8,842.8 L1763.7,838.0 L1779.5,831.2 L1795.4,823.4 L1811.2,812.7 L1827.1,805.0 L1842.9,804.0 L1858.8,803.0 L1874.6,797.6 L1890.5,794.3 L1906.4,787.9 L1922.2,781.7 L1938.1,768.1 L1953.9,764.2 L1969.8,750.6 L1985.6,749.1 L2001.5,741.9 L2017.3,729.3 L2033.2,711.8 L2049.1,691.4 L2064.9,675.9 L2080.8,641.9 L2096.6,614.7 L2112.5,589.5 L2128.3,572.0 L2144.2,540.9 L2160.0,496.3 L2175.9,467.2 L2191.7,455.1 L2207.6,454.4" fill="none" stroke="#0000ff" stroke-width="13.6" stroke-linejoin="round"/>
<path d="M305.0,454.5 L1050.2,454.5 L1066.0,460.5 L1081.9,460.8 L1097.8,463.3 L1113.6,465.5 L1129.5,465.5 L1145.3,465.5 L1161.2,468.4 L1177.0,468.4 L1192.9,468.4 L1208.7,473.2 L1224.6,478.2 L1811.2,478.0 L1827.1,476.5 L1842.9,458.5 L1858.8,454.5 L2207.6,454.5" fill="none" stroke="#ff00ff" stroke-width="5" stroke-linejoin="round"/>
<text transform="translate(162.30,1058.80) scale(1,1.042)" font-size="56.6" text-anchor="start" >-70</text>
<text transform="translate(162.30,973.98) scale(1,1.042)" font-size="56.6" text-anchor="start" >-60</text>
<text transform="translate(162.30,889.16) scale(1,1.042)" font-size="56.6" text-anchor="start" >-50</text>
<text transform="translate(162.30,804.35) scale(1,1.042)" font-size="56.6" text-anchor="start" >-40</text>
<text transform="translate(162.30,719.53) scale(1,1.042)" font-size="56.6" text-anchor="start" >-30</text>
<text transform="translate(162.30,634.71) scale(1,1.042)" font-size="56.6" text-anchor="start" >-20</text>
<text transform="translate(162.30,549.89) scale(1,1.042)" font-size="56.6" text-anchor="start" >-10</text>
<text transform="translate(192.70,465.07) scale(1,1.042)" font-size="56.6" text-anchor="start" >0</text>
<text transform="translate(178.60,380.25) scale(1,1.042)" font-size="56.6" text-anchor="start" >10</text>
<text transform="translate(178.60,295.44) scale(1,1.042)" font-size="56.6" text-anchor="start" >20</text>
<text transform="translate(178.60,210.62) scale(1,1.042)" font-size="56.6" text-anchor="start" >30</text>
<text transform="translate(178.60,125.80) scale(1,1.042)" font-size="56.6" text-anchor="start" >40</text>
<text transform="translate(304.90,86.80) scale(1,1.042)" font-size="56.6" text-anchor="start" >Jää ja lumi,14 331 Vatianjärvi</text>
<text transform="translate(99,981) rotate(-90) scale(1,1.06)" font-size="49.5" xml:space="preserve">Jää ja lumi / Ice and snow&#160;&#160;&#160;&#160;cm</text>
<text transform="translate(305.20,1121.00) scale(1,1.042)" font-size="42.5" text-anchor="start" >Tammikuu</text>
<text transform="translate(305.20,1165.00) scale(1,1.042)" font-size="42.5" text-anchor="start" >2026</text>
<text transform="translate(748.88,1121.00) scale(1,1.042)" font-size="42.5" text-anchor="start" >Helmikuu</text>
<text transform="translate(748.88,1165.00) scale(1,1.042)" font-size="42.5" text-anchor="start" >February</text>
<text transform="translate(1192.83,1121.00) scale(1,1.042)" font-size="42.5" text-anchor="start" >Maaliskuu</text>
<text transform="translate(1192.83,1165.00) scale(1,1.042)" font-size="42.5" text-anchor="start" >March</text>
<text transform="translate(1684.33,1121.00) scale(1,1.042)" font-size="42.5" text-anchor="start" >Huhtikuu</text>
<text transform="translate(1684.33,1165.00) scale(1,1.042)" font-size="42.5" text-anchor="start" >April</text>
<text transform="translate(2224.00,84.30) scale(1,1.042)" font-size="35.4" text-anchor="start" >Lumen syvyys jäällä</text>
<text transform="translate(2224.00,127.60) scale(1,1.042)" font-size="35.4" text-anchor="start" >Simuloitu ja keskiennuste</text>
<text transform="translate(2224.00,201.50) scale(1,1.042)" font-size="35.4" text-anchor="start" >Jään paksuus</text>
<text transform="translate(2224.00,244.60) scale(1,1.042)" font-size="35.4" text-anchor="start" >Simuloitu ja keskiennuste</text>
<text transform="translate(2224.00,318.10) scale(1,1.042)" font-size="35.4" text-anchor="start" >Ennusteen vaihteluväli</text>
<text transform="translate(2224.00,391.70) scale(1,1.042)" font-size="35.4" text-anchor="start" >5-95% vaihteluväli</text>
<text transform="translate(2224.00,465.30) scale(1,1.042)" font-size="35.4" text-anchor="start" >25-75% vaihteluväli</text>
<text transform="translate(2224.00,538.90) scale(1,1.042)" font-size="35.4" text-anchor="start" >Kohvajää</text>
<text transform="translate(2224.00,612.50) scale(1,1.042)" font-size="35.4" text-anchor="start" >Ennusteen alku</text>
<text transform="translate(2223.00,1140.40) scale(1,1.042)" font-size="35.4" text-anchor="start" >04-Feb-2026 21:15 WSFS-P</text>
<g shape-rendering="crispEdges">
<line x1="2223" y1="144" x2="2541" y2="144" stroke="#0000ff" stroke-width="10" stroke-dasharray="15 2.65" stroke-dashoffset="6.8"/>
<line x1="2223" y1="260.5" x2="2541" y2="260.5" stroke="#0000ff" stroke-width="13"/>
<line x1="2223" y1="334.5" x2="2541" y2="334.5" stroke="#ffff00" stroke-width="13"/>
<line x1="2223" y1="408.5" x2="2541" y2="408.5" stroke="#ff0000" stroke-width="13"/>
<line x1="2223" y1="482" x2="2541" y2="482" stroke="#00ff00" stroke-width="13"/>
<line x1="2223" y1="556" x2="2541" y2="556" stroke="#ff00ff" stroke-width="6"/>
<line x1="2223" y1="629.7" x2="2541" y2="629.7" stroke="#00ffff" stroke-width="10" stroke-dasharray="15 13.34"/>
</g>
</svg>
</body></html>
